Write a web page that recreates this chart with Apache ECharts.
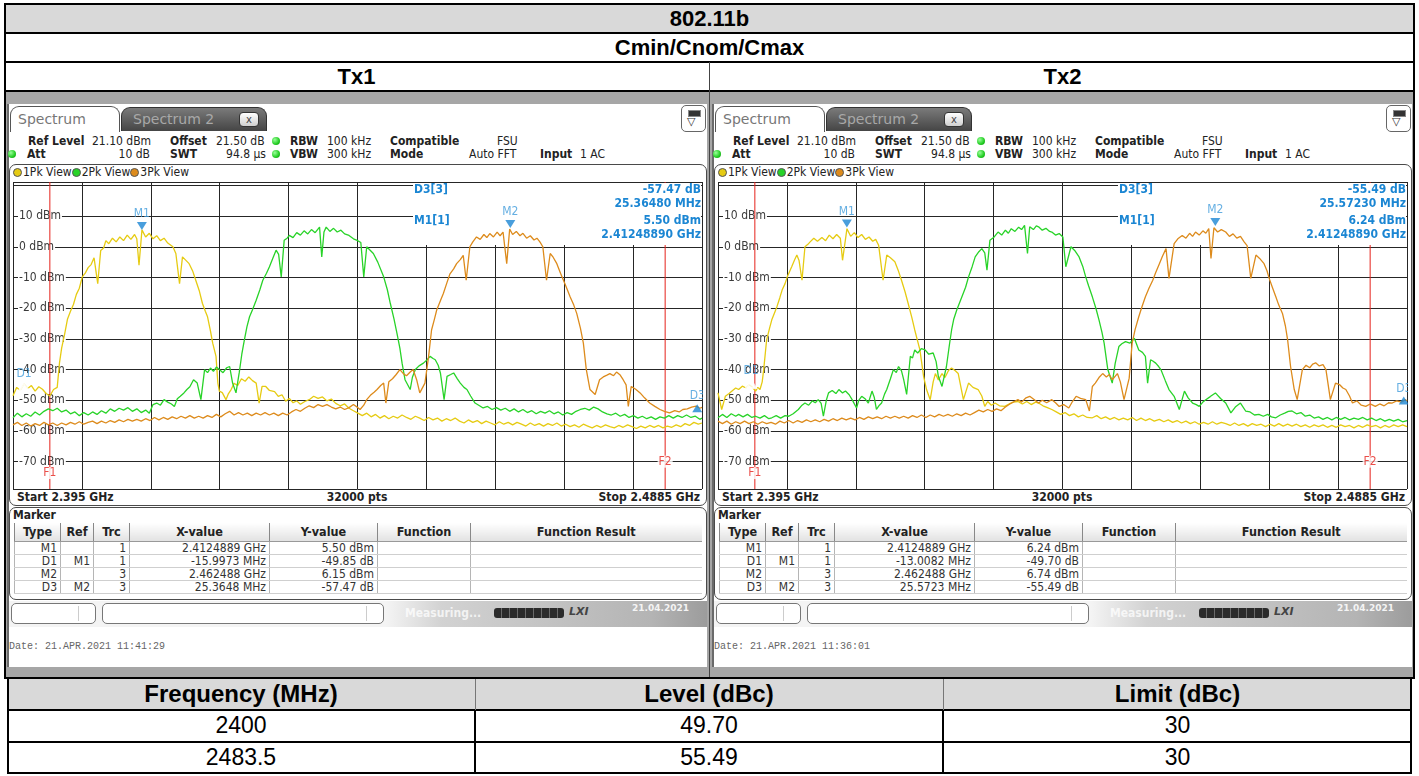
<!DOCTYPE html>
<html><head><meta charset="utf-8">
<script src="https://cdn.jsdelivr.net/npm/echarts@6/dist/echarts.min.js"></script>
<style>
html,body{margin:0;padding:0;background:#fff;}
#page{position:relative;width:1419px;height:776px;overflow:hidden;font-family:"Liberation Sans",Arial,sans-serif;}
.a{position:absolute;}
.hdr{position:absolute;text-align:center;font-weight:bold;font-size:22px;color:#000;line-height:29px;}
.rs{position:absolute;font-family:"DejaVu Sans Condensed","DejaVu Sans",sans-serif;font-size:12px;color:#222;white-space:nowrap;line-height:13px;}
.b{font-weight:bold;}
.dot{position:absolute;width:8px;height:8px;border-radius:50%;background:radial-gradient(circle at 35% 35%,#9f9,#2c2 60%,#181);}
.ldot{display:inline-block;width:9px;height:9px;border-radius:50%;border:1px solid #555;vertical-align:-1px;margin-right:1px;box-sizing:border-box;}
table.mk{position:absolute;border-collapse:collapse;table-layout:fixed;font-family:"DejaVu Sans Condensed","DejaVu Sans",sans-serif;font-size:12px;color:#333;}
table.mk td{padding:0 3px 0 0;text-align:right;border-left:1px solid #b5b5b5;border-bottom:1px solid #cfcfcf;height:12px;line-height:12px;white-space:nowrap;overflow:hidden;}
table.mk th{font-weight:bold;font-size:12.5px;color:#222;height:16px;line-height:16px;border-left:1px solid #888;border-bottom:1px solid #999;background:linear-gradient(#ffffff,#e2e2e2);}
.bt{position:absolute;text-align:center;font-size:23px;color:#000;}
</style></head>
<body><div id="page"></div>
<script>
// ---------------- data ----------------
const F_START = 2395, F_STOP = 2488.5, REF_LEVEL = 21.1, RANGE_DB = 100;
const traceColors = ['#e6cb12', '#28d328', '#dd8b1c'];
const fLineFreqs = [2400, 2483.5];
const fLineNames = ['F1', 'F2'];
const fLabelLevels = [-73.7, -70];

const tx1Yellow = [[2395,-48.5],[2395.5,-45.8],[2396,-46.8],[2396.5,-44.6],[2397,-46.2],[2397.5,-45.2],[2398,-47],[2398.5,-45.6],[2399,-46.4],[2399.5,-47.8],[2400,-48.6],[2400.5,-46.5],[2401,-45.8],[2401.3,-38],[2401.6,-33],[2402,-28.5],[2402.4,-23.5],[2402.8,-21],[2403.2,-18.8],[2403.6,-15.5],[2404,-13.5],[2404.4,-9.8],[2404.8,-8.6],[2405.2,-6.8],[2405.6,-5.8],[2406,-3.6],[2406.5,-12],[2406.9,-1.2],[2407.3,-0.4],[2407.6,2],[2408,1],[2408.5,2.8],[2409,1.6],[2409.5,3.2],[2410,2],[2410.5,3.8],[2411,2.4],[2411.5,4],[2411.8,2.6],[2412.1,-6],[2412.5,5.5],[2413,3.2],[2413.5,4.4],[2414,2.6],[2414.5,3.6],[2415,2],[2415.5,2.8],[2416,1.2],[2416.7,0],[2417.1,-2.2],[2417.6,-12],[2418,-3.3],[2418.5,-4.5],[2418.9,-5.5],[2419.4,-8],[2419.8,-10.9],[2420.3,-14.5],[2420.7,-18.4],[2421.1,-21],[2421.4,-22.8],[2421.8,-27.5],[2422.1,-31.4],[2422.55,-35.7],[2422.8,-44.4],[2423,-47],[2423.4,-47.5],[2423.9,-49.8],[2424.2,-48],[2424.6,-46.5],[2425,-44.5],[2425.5,-45.2],[2426,-43],[2426.5,-43.8],[2427,-42.4],[2427.5,-43.6],[2428,-44.4],[2428.4,-50.9],[2428.8,-45.5],[2429.3,-45.5],[2429.8,-46.8],[2430.5,-47.2],[2431,-48.7],[2431.5,-48.2],[2432,-50.3],[2432.5,-49.4],[2433,-50.8],[2433.5,-50.2],[2434,-51.3],[2434.6,-50.4],[2435.2,-49.8],[2435.8,-48.7],[2436.4,-49.4],[2437,-48.9],[2437.6,-50.2],[2438.2,-49.6],[2438.8,-51],[2439.4,-51.8],[2440,-51.2],[2440.6,-52.6],[2441.2,-53.4],[2441.8,-54.2],[2442.4,-55],[2443,-54.2],[2443.6,-55.4],[2444.2,-54.6],[2444.8,-55.8],[2445.4,-55],[2446,-56],[2446.6,-55.2],[2447.2,-55.8],[2447.8,-54.8],[2448.4,-55.6],[2449,-56.2],[2449.6,-55.2],[2450.2,-55.8],[2450.8,-56.6],[2451.4,-55.6],[2452,-56.4],[2452.6,-55.8],[2453.2,-56.8],[2453.8,-56],[2454.4,-56.6],[2455,-55.8],[2455.6,-56.8],[2456.2,-57.4],[2456.8,-56.4],[2457.4,-57.2],[2458,-56.6],[2458.6,-57.6],[2459.2,-56.8],[2459.8,-57.4],[2460.4,-58],[2461,-57],[2461.6,-57.8],[2462.2,-57.2],[2462.8,-58],[2463.4,-57.2],[2464,-57.8],[2464.6,-58.4],[2465.2,-57.4],[2465.8,-58.2],[2466.4,-57.6],[2467,-58.4],[2467.6,-57.6],[2468.2,-58.2],[2468.8,-57.4],[2469.4,-58.4],[2470,-57.8],[2470.6,-58.6],[2471.2,-58],[2471.8,-58.8],[2472.4,-57.8],[2473,-58.4],[2473.6,-59],[2474.2,-58.2],[2474.8,-58.8],[2475.4,-58],[2476,-58.6],[2476.6,-59],[2477.2,-58.2],[2477.8,-58.8],[2478.4,-58],[2479,-58.6],[2479.6,-59.2],[2480.2,-58.4],[2480.8,-59],[2481.4,-58.2],[2482,-58.8],[2482.6,-58.2],[2483.2,-59],[2483.8,-58.4],[2484.4,-58.8],[2485,-58],[2485.6,-58.6],[2486.2,-57.6],[2486.8,-58.2],[2487.4,-57.2],[2488,-57.8],[2488.5,-57.4]];

const tx1Green = [[2395,-55.7],[2395.6,-54.2],[2396.2,-55.4],[2396.8,-54.4],[2397.4,-55.2],[2398,-53.8],[2398.6,-54.8],[2399.2,-53.6],[2399.8,-52.8],[2400.4,-53.4],[2401,-52.6],[2401.6,-53.8],[2402.2,-53.2],[2402.8,-54.4],[2403.4,-53.8],[2404,-55],[2404.6,-54],[2405.2,-54.8],[2405.8,-53.8],[2406.4,-54.6],[2407,-53.4],[2407.6,-54.2],[2408.2,-52.8],[2408.8,-53.6],[2409.4,-52.6],[2410,-53.2],[2410.6,-52.4],[2411.2,-53.6],[2411.8,-52.8],[2412.4,-54],[2413,-53.2],[2413.5,-54.2],[2414,-51.4],[2414.5,-50.9],[2415,-51.6],[2415.5,-49.8],[2416,-50.6],[2416.5,-51.2],[2416.9,-52],[2417.3,-49.5],[2417.7,-48.7],[2418.2,-47.6],[2418.6,-46.5],[2419,-45.6],[2419.5,-43.3],[2420,-44.4],[2420.5,-49.8],[2421,-40],[2421.4,-41],[2421.8,-39.5],[2422.2,-40.6],[2422.6,-39.2],[2423,-40],[2423.5,-41],[2424,-39.4],[2424.4,-39],[2424.8,-44.4],[2425.26,-47.6],[2425.7,-41],[2426.05,-35],[2426.4,-30.3],[2426.75,-26],[2427.1,-22.8],[2427.5,-20.5],[2428,-17.4],[2428.5,-14],[2428.9,-10.9],[2429.4,-8.6],[2429.8,-6.5],[2430.3,-3.5],[2430.7,-1.1],[2431.05,-2.5],[2431.4,-9.8],[2431.8,2.1],[2432.2,2.8],[2432.5,3.7],[2433,3],[2433.5,4.6],[2434,3.8],[2434.5,5.2],[2435,4.2],[2435.5,5.6],[2436,4.6],[2436.6,6.4],[2436.9,-3.3],[2437.2,4.8],[2437.5,6.4],[2438,5],[2438.5,6],[2439,4.8],[2439.5,5.4],[2440,4.2],[2440.6,3.7],[2441.2,2.6],[2441.7,2.1],[2442.2,1.4],[2442.6,-9.8],[2443,0],[2443.5,-1.2],[2443.9,-2.2],[2444.5,-5],[2445.3,-9.8],[2445.8,-14],[2446.2,-18.4],[2446.7,-23.5],[2447.1,-28.1],[2447.5,-33],[2447.8,-37.9],[2448.2,-43.3],[2448.9,-46.5],[2449.2,-42.5],[2449.6,-40],[2450.1,-38.8],[2450.7,-37.9],[2451.2,-36.8],[2451.6,-35.7],[2452,-36.4],[2452.3,-36.8],[2452.7,-38.6],[2453,-41.1],[2453.5,-49.8],[2453.9,-42.2],[2454.4,-41.6],[2454.8,-41.1],[2455.3,-43],[2455.7,-44.4],[2456.2,-45.8],[2456.6,-46.5],[2457.1,-48.6],[2457.7,-50.9],[2458.2,-51.6],[2458.8,-52.5],[2459.4,-52],[2460,-53],[2460.6,-52.4],[2461.2,-53.2],[2461.8,-52.6],[2462.4,-53.6],[2463,-52.8],[2463.6,-53.8],[2464.2,-53],[2464.8,-54],[2465.4,-53.4],[2466,-54.4],[2466.6,-53.6],[2467.2,-54.2],[2467.8,-53.4],[2468.4,-54.4],[2469,-53.8],[2469.6,-54.8],[2470.2,-54],[2470.8,-54.6],[2471.4,-53.6],[2472,-53],[2472.6,-52.6],[2473.2,-53.2],[2473.8,-52.2],[2474.4,-52.8],[2475,-53.8],[2475.6,-54.4],[2476.2,-54.8],[2476.8,-54.2],[2477.4,-55.2],[2478,-54.6],[2478.6,-55.6],[2479.2,-55],[2479.8,-55.8],[2480.4,-55.2],[2481,-56],[2481.6,-55.4],[2482.2,-56.2],[2482.8,-55.4],[2483.4,-55.8],[2484,-55],[2484.6,-55.8],[2485.2,-55],[2485.8,-55.6],[2486.4,-54.8],[2487,-55.6],[2487.6,-55.2],[2488.2,-56.2],[2488.5,-55.8]];

const tx1Orange = [[2395,-58],[2395.6,-57.2],[2396.2,-58.2],[2396.8,-57.4],[2397.4,-58.4],[2398,-57.6],[2398.6,-58.2],[2399.2,-57.2],[2399.8,-58],[2400.4,-57.4],[2401,-58.2],[2401.6,-57.4],[2402.2,-58],[2402.8,-57.2],[2403.4,-57.8],[2404,-57],[2404.6,-57.8],[2405.2,-57.2],[2405.8,-56.8],[2406.4,-57.6],[2407,-56.8],[2407.6,-57.4],[2408.2,-56.6],[2408.8,-57.2],[2409.4,-56.4],[2410,-57],[2410.6,-56.2],[2411.2,-56.8],[2411.8,-56.2],[2412.4,-56.8],[2413,-56],[2413.6,-56.6],[2414.2,-55.6],[2414.8,-56.4],[2415.4,-55.6],[2416,-56.2],[2416.6,-55.4],[2417.2,-56],[2417.8,-55.2],[2418.4,-55.8],[2419,-55],[2419.6,-55.8],[2420.2,-55.2],[2420.8,-55.8],[2421.4,-55],[2422,-55.6],[2422.6,-54.6],[2423.2,-55.4],[2423.8,-54.4],[2424.4,-53.6],[2425,-54.8],[2425.6,-54],[2426.2,-54.8],[2426.8,-54.2],[2427.4,-55],[2428,-54.2],[2428.6,-54.8],[2429.2,-54],[2429.8,-54.8],[2430.4,-54.2],[2431,-55],[2431.6,-54.2],[2432.2,-54.8],[2432.8,-53.8],[2433.4,-53],[2434,-53.6],[2434.6,-52.6],[2435.2,-51.8],[2435.8,-52.4],[2436.4,-51.4],[2437,-52],[2437.6,-51.4],[2438.2,-52.2],[2438.8,-52.8],[2439.4,-52.2],[2440,-53],[2440.6,-52.4],[2441.2,-51.4],[2441.8,-52.4],[2442.1,-53],[2442.6,-51.6],[2443,-49.8],[2443.5,-48.4],[2444,-47.4],[2444.4,-46.5],[2444.9,-45.2],[2445.3,-44.4],[2445.6,-50.9],[2446,-44],[2446.5,-43],[2447,-41.6],[2447.5,-40],[2448,-41.4],[2448.4,-42],[2448.9,-40.8],[2449.3,-40],[2449.8,-43.5],[2450.2,-47.6],[2450.9,-44.4],[2451.4,-35.7],[2451.8,-27.1],[2452.2,-23.5],[2452.5,-20.6],[2453,-17.6],[2453.4,-15.2],[2453.9,-11.6],[2454.3,-8.8],[2454.8,-7.2],[2455.2,-5.5],[2455.7,-4.2],[2456.1,-2.8],[2456.5,-10.9],[2457,0],[2457.4,1.6],[2457.9,3.2],[2458.4,2.4],[2458.9,4],[2459.3,3],[2459.7,4.3],[2460.2,3.2],[2460.7,4.8],[2461.1,3.6],[2461.5,4.8],[2462,-5.5],[2462.4,5.8],[2462.8,4],[2463.3,5],[2463.8,3.6],[2464.2,4.4],[2464.7,2.8],[2465.2,3.6],[2465.7,2.2],[2466.1,2.8],[2466.5,1.6],[2466.9,0],[2467.4,-10.9],[2467.9,-2.2],[2468.3,-3.4],[2468.8,-5.5],[2469.3,-8.6],[2469.7,-10.9],[2470.2,-13.8],[2470.6,-16.3],[2471.1,-19],[2471.5,-21.7],[2472,-26.5],[2472.4,-31.4],[2472.8,-40],[2473.3,-46.5],[2474,-48.1],[2474.6,-43.3],[2475.1,-42.4],[2475.6,-41.8],[2476,-41.3],[2476.5,-42],[2476.9,-40.8],[2477.4,-41.8],[2477.8,-43.3],[2478.2,-45],[2478.5,-52],[2478.9,-45.5],[2479.5,-46.4],[2480.1,-47.6],[2480.7,-49.2],[2481.4,-50.9],[2482.1,-52],[2482.8,-53],[2483.4,-53.6],[2484.1,-54.1],[2484.8,-53.4],[2485.4,-53.8],[2485.9,-53],[2486.5,-52.8],[2487.1,-52.2],[2487.7,-51.9],[2488.2,-52.6],[2488.5,-52.3]];

const tx2Yellow = [[2395,-47.6],[2395.5,-53],[2396,-48.7],[2396.5,-47.8],[2396.9,-47],[2397.4,-46],[2397.8,-46.5],[2398.3,-45.4],[2398.8,-46],[2399.2,-44.9],[2399.6,-45.6],[2400.1,-47],[2400.4,-45.8],[2400.7,-46.5],[2401,-44],[2401.2,-40],[2401.6,-30.3],[2402,-26.5],[2402.3,-23.8],[2403,-19.5],[2403.4,-16.5],[2403.7,-14.1],[2404.1,-12],[2404.4,-9.8],[2405,-6.5],[2405.4,-4.2],[2405.7,-2.7],[2406,-4.5],[2406.4,-10.9],[2406.8,0],[2407.2,0.8],[2407.5,1.6],[2408,2.8],[2408.5,1.8],[2409.1,3],[2409.6,2],[2410.1,3.8],[2410.6,2.6],[2411.1,4],[2411.6,2.8],[2411.9,-4.4],[2412.5,5.9],[2413,3.4],[2413.5,4.6],[2414,3],[2414.5,4],[2415,2.4],[2415.5,3.2],[2416,1.8],[2416.4,2.4],[2416.8,0.5],[2417.4,-10.9],[2417.9,-2.7],[2418.4,-3.6],[2419,-4.9],[2419.5,-8],[2419.9,-10.9],[2420.4,-14.8],[2420.8,-18.4],[2421.3,-23],[2421.7,-27.1],[2422.1,-30.8],[2422.4,-33.6],[2422.9,-42.2],[2423.3,-46.5],[2423.8,-49.8],[2424.2,-44],[2424.5,-41.3],[2424.9,-43.4],[2425.4,-41.3],[2425.8,-42.6],[2426.3,-40.2],[2426.7,-39.5],[2427.2,-40.4],[2427.6,-41.3],[2428.3,-49.8],[2429,-44.4],[2429.6,-45.8],[2430.3,-46.5],[2430.8,-48.6],[2431.2,-52],[2431.6,-50.4],[2432.1,-51.6],[2432.6,-50.9],[2433.2,-51.8],[2433.9,-52],[2434.5,-51.2],[2435.1,-50.6],[2435.7,-50.4],[2436.3,-51.2],[2436.9,-50.4],[2437.5,-51.4],[2438.1,-50.6],[2438.5,-50.9],[2439.1,-51.8],[2439.7,-52.4],[2440.3,-53],[2440.9,-53.8],[2441.5,-54.6],[2442.1,-54],[2442.7,-55],[2443.3,-54.4],[2443.9,-55.4],[2444.5,-54.8],[2445.1,-55.6],[2445.8,-55.7],[2446.4,-55],[2447,-56],[2447.6,-55.4],[2448.2,-56.2],[2448.8,-55.6],[2449.4,-56.4],[2450,-55.8],[2450.6,-56.4],[2451.2,-55.6],[2451.8,-56.6],[2452.4,-55.8],[2453,-56.6],[2453.6,-56],[2454.2,-56.8],[2454.9,-56.2],[2455.5,-57],[2456.1,-56.4],[2456.7,-57.2],[2457.3,-56.6],[2457.9,-57.4],[2458.5,-56.8],[2459.1,-57.6],[2459.7,-57],[2460.3,-57.8],[2460.9,-57.2],[2461.5,-57.8],[2462.1,-57],[2462.7,-57.8],[2463.3,-57.2],[2463.9,-57.6],[2464.5,-58.2],[2465.1,-57.4],[2465.7,-58.2],[2466.3,-57.6],[2466.9,-58.4],[2467.5,-57.6],[2468.1,-58.2],[2468.7,-57.8],[2469.3,-58.6],[2469.9,-57.8],[2470.5,-58.4],[2471.1,-57.6],[2471.7,-58.4],[2472.3,-57.8],[2472.9,-58.4],[2473.5,-57.8],[2474.1,-58.6],[2474.7,-58],[2475.3,-58.8],[2475.9,-58],[2476.5,-58.6],[2477.1,-58],[2477.7,-58.8],[2478.3,-58.2],[2478.9,-58.8],[2479.5,-58],[2480.1,-58.6],[2480.7,-58.2],[2481.3,-59],[2481.9,-58.2],[2482.5,-58.8],[2483.1,-58],[2483.7,-58.6],[2484.3,-58.2],[2484.9,-59],[2485.5,-58.2],[2486.1,-58.8],[2486.7,-58],[2487.3,-58.6],[2487.9,-58],[2488.5,-58.6]];

const tx2Green = [[2395,-55.7],[2395.6,-54.6],[2396.2,-55.6],[2396.8,-54.4],[2397.4,-55.2],[2397.8,-54.6],[2398.4,-55.4],[2399,-54.6],[2399.6,-55.6],[2400.1,-55.2],[2400.7,-55.8],[2401.3,-55],[2401.9,-56],[2402.3,-55.7],[2402.9,-55],[2403.5,-55.8],[2404.1,-55],[2404.6,-55.2],[2405.2,-54.4],[2405.9,-53],[2406.4,-51.6],[2406.8,-50.9],[2407.3,-51.6],[2407.8,-50.2],[2408.2,-50.8],[2408.6,-49.8],[2409,-51],[2409.3,-55.2],[2409.7,-50],[2410,-47.6],[2410.5,-46.8],[2411,-47.8],[2411.4,-46.5],[2411.9,-47.6],[2412.3,-47],[2412.8,-48.2],[2413.2,-49.8],[2413.8,-52.5],[2414.1,-50],[2414.5,-48.7],[2415,-49.6],[2415.4,-50.9],[2415.9,-47],[2416.2,-49],[2416.5,-53],[2416.9,-51.6],[2417.2,-50.9],[2417.6,-48],[2417.9,-46.5],[2418.4,-43],[2418.8,-40],[2419.2,-41],[2419.5,-39],[2419.9,-40.4],[2420.2,-43.3],[2420.6,-48.1],[2421.1,-35.7],[2421.4,-36.2],[2421.7,-33.6],[2422.1,-34.6],[2422.6,-33.2],[2423.1,-33.6],[2423.6,-35],[2424.2,-34.6],[2424.6,-37.4],[2424.9,-42.2],[2425.4,-45.5],[2426,-39],[2426.4,-32],[2426.7,-27.1],[2427,-23.5],[2427.4,-20.6],[2428.1,-16.3],[2428.6,-13.2],[2429,-9.8],[2429.5,-6.4],[2429.9,-3.3],[2430.4,-1.6],[2430.8,-0.6],[2431.2,-2],[2431.5,-7.6],[2431.9,2.1],[2432.4,3],[2433,4.8],[2433.5,3.8],[2434,5.4],[2434.4,4.4],[2434.8,5.9],[2435.3,5],[2435.8,6.4],[2436.2,5.6],[2436.6,7],[2437,-2.2],[2437.3,6.5],[2437.8,5.6],[2438.2,6.8],[2438.5,6.5],[2439,5.4],[2439.5,6],[2440,5],[2440.3,4.8],[2440.8,3.8],[2441.3,4.3],[2441.8,3.2],[2442.2,-6.5],[2442.9,0],[2443.4,-1.2],[2444,-3.3],[2444.5,-6.4],[2444.9,-9.8],[2445.3,-12.8],[2445.8,-16.3],[2446.3,-20.2],[2446.7,-23.8],[2447.1,-27.8],[2447.4,-31.4],[2447.9,-40],[2448.5,-44.4],[2448.9,-38],[2449.4,-32.5],[2449.8,-31.6],[2450.3,-30.9],[2450.9,-31.4],[2451.5,-29.8],[2452.1,-33.6],[2452.6,-34.4],[2453,-35.7],[2453.3,-44.4],[2453.7,-36.8],[2454,-37.2],[2454.4,-37.9],[2454.8,-39],[2455.1,-40],[2455.7,-43.6],[2456.2,-46.5],[2456.9,-48.7],[2457.6,-53],[2458.3,-47],[2458.8,-49.2],[2459.4,-50.9],[2459.9,-51.4],[2460.3,-52],[2460.8,-50.6],[2461.2,-49.8],[2461.8,-48.8],[2462.5,-47.6],[2463.2,-49.4],[2463.9,-50.9],[2464.6,-54.1],[2465.2,-52.2],[2465.9,-50.9],[2466.6,-53.5],[2467.2,-53.8],[2467.8,-54.8],[2468.4,-54.6],[2469,-55.2],[2469.6,-54.6],[2470.1,-55.4],[2470.7,-55.7],[2471.3,-54.8],[2471.9,-54.2],[2472.4,-53.6],[2472.9,-53.5],[2473.5,-54.4],[2474.1,-54],[2474.7,-55.2],[2475.3,-54.8],[2475.9,-55.8],[2476.5,-55.4],[2477.1,-56.2],[2477.7,-55.6],[2478.3,-56.4],[2478.9,-55.6],[2479.5,-56.2],[2480.1,-55.6],[2480.7,-56.4],[2481.3,-55.8],[2481.9,-56.2],[2482.5,-55.6],[2483.1,-56.4],[2483.7,-55.8],[2484.3,-56.6],[2484.9,-56],[2485.5,-56.8],[2486.1,-56.2],[2486.7,-56.8],[2487.3,-56.2],[2487.9,-57],[2488.5,-56.6]];

const tx2Orange = [[2395,-56.8],[2395.6,-57.6],[2396.2,-56.8],[2396.8,-57.8],[2397.4,-57],[2398,-57.6],[2398.6,-56.8],[2399.2,-57.6],[2399.8,-57],[2400.4,-57.8],[2401,-57],[2401.6,-57.6],[2402.2,-57.2],[2402.8,-57.8],[2403.4,-56.8],[2404,-57.4],[2404.6,-56.6],[2405.2,-57.4],[2405.8,-56.6],[2406.4,-57.2],[2407,-56.4],[2407.6,-57],[2408.2,-56.4],[2408.8,-57],[2409.4,-56.2],[2410,-56.8],[2410.6,-56],[2411.2,-56.6],[2411.8,-55.8],[2412.4,-56.4],[2413,-55.8],[2413.6,-56.4],[2414.2,-55.6],[2414.8,-56.2],[2415.4,-55.4],[2416,-56],[2416.6,-55.4],[2417.2,-56],[2417.8,-55.2],[2418.4,-55.8],[2419,-55.2],[2419.6,-55.8],[2420.2,-55.2],[2420.8,-55.8],[2421.4,-55],[2422,-55.6],[2422.6,-54.8],[2423.2,-55.6],[2423.8,-54.8],[2424.4,-55.4],[2425,-54.6],[2425.6,-55.2],[2426.2,-54.6],[2426.8,-55.2],[2427.4,-54.4],[2428,-55],[2428.6,-54.2],[2429.2,-54.8],[2429.8,-54],[2430.4,-53.2],[2431,-53.8],[2431.6,-53],[2432.2,-53.6],[2432.8,-52.8],[2433.4,-53.4],[2434,-52.2],[2434.6,-51.2],[2435.2,-50.4],[2435.7,-49.8],[2436.2,-50.6],[2436.8,-49.2],[2437.3,-48.7],[2437.8,-49.6],[2438.5,-50.9],[2439,-50],[2439.6,-50.8],[2440.3,-49.8],[2440.8,-50.8],[2441.3,-52],[2441.9,-51.4],[2442.6,-52.5],[2443.1,-50.4],[2443.6,-48.7],[2444.2,-49.4],[2444.9,-49.8],[2445.4,-53.5],[2445.8,-45.5],[2446.2,-44.4],[2446.7,-42.6],[2447.2,-41.3],[2447.7,-42.4],[2448.1,-41.6],[2448.5,-43.3],[2449.2,-41.3],[2449.6,-44],[2450.1,-49.8],[2450.8,-42.8],[2451.2,-31.4],[2451.6,-27],[2452.1,-22.8],[2452.5,-19.8],[2453,-16.3],[2453.5,-13.4],[2454,-10.9],[2454.4,-8.4],[2454.9,-5.5],[2455.3,-3.2],[2455.8,-0.6],[2456.2,-10.3],[2456.9,1],[2457.4,2.6],[2458,3.7],[2458.5,2.8],[2459,4.4],[2459.4,3.4],[2459.8,4.8],[2460.3,3.8],[2460.8,5.2],[2461.2,4.4],[2461.6,5.9],[2461.9,-3.8],[2462.3,6.2],[2462.8,4.8],[2463.3,5.6],[2463.9,4.8],[2464.4,3.4],[2464.9,4.2],[2465.4,2.8],[2465.9,3.4],[2466.4,1.6],[2466.8,0.4],[2467.3,-10.3],[2468,-2.7],[2468.5,-3.8],[2469.1,-5.5],[2469.5,-7.8],[2469.8,-10.3],[2470.2,-13],[2470.7,-16.3],[2471.1,-19],[2471.6,-21.7],[2472,-25.8],[2472.3,-30.3],[2472.7,-39],[2473.2,-46.5],[2473.6,-49.8],[2474.3,-40],[2474.8,-38.6],[2475.3,-39.4],[2475.7,-38.2],[2476.1,-37.8],[2476.6,-38.8],[2477.1,-38.4],[2477.5,-40],[2478.1,-49.8],[2478.8,-44.4],[2479.4,-45],[2479.8,-46],[2480.2,-46.5],[2480.7,-48.6],[2481.1,-50.9],[2481.7,-50.2],[2482.3,-51.6],[2482.9,-52],[2483.5,-51.2],[2484.2,-52],[2484.8,-51.2],[2485.4,-51.8],[2486,-50.8],[2486.5,-50.9],[2487.1,-50.2],[2487.7,-50.6],[2488.3,-49.8],[2488.5,-50.2]];

// markers: M = absolute (MHz, dBm); D = delta to reference (MHz, dB)
const markerNames = ['M1', 'D1', 'M2', 'D3'];
const markerRefs  = ['', 'M1', '', 'M2'];
const markerTrcs  = [1, 1, 3, 3];
const tx1MarkerX = [2412.4889, -15.9973, 2462.488, 25.3648];
const tx1MarkerY = [5.50, -49.85, 6.15, -57.47];
const tx2MarkerX = [2412.4889, -13.0082, 2462.488, 25.5723];
const tx2MarkerY = [6.24, -49.70, 6.74, -55.49];

const panelTitles = ['Tx1', 'Tx2'];
const panelDates = ['Date: 21.APR.2021  11:41:29', 'Date: 21.APR.2021  11:36:01'];

// summary table
const summaryHeaders = ['Frequency (MHz)', 'Level (dBc)', 'Limit (dBc)'];
const summaryFreq = [2400, 2483.5];
const summaryLevel = [49.70, 55.49];
const summaryLimit = [30, 30];

// ---------------- layout ----------------
const page = document.getElementById('page');
function el(html) { page.insertAdjacentHTML('beforeend', html); }
const RSF = '"DejaVu Sans Condensed","DejaVu Sans",sans-serif';

// top table
el('<div class="a" style="left:4px;top:4px;width:1411px;height:29px;background:#d9d9d9"></div>');
el('<div class="a" style="left:6px;top:92px;width:1407px;height:586px;background:#a6a6a6"></div>');
el('<div class="a" style="left:4px;top:3px;width:1411px;height:676px;border:2px solid #000;box-sizing:border-box"></div>');
[33, 62, 91].forEach(y => el(`<div class="a" style="left:4px;top:${y - 1}px;width:1411px;height:2px;background:#000"></div>`));
el('<div class="a" style="left:709px;top:62px;width:1px;height:616px;background:#444"></div>');
el('<div class="hdr" style="left:4px;top:4px;width:1411px">802.11b</div>');
el('<div class="hdr" style="left:4px;top:33px;width:1411px">Cmin/Cnom/Cmax</div>');
el(`<div class="hdr" style="left:4px;top:62px;width:705px">${panelTitles[0]}</div>`);
el(`<div class="hdr" style="left:710px;top:62px;width:705px">${panelTitles[1]}</div>`);

// bottom table
el('<div class="a" style="left:7px;top:678px;width:1405px;height:32px;background:#d9d9d9"></div>');
el('<div class="a" style="left:7px;top:677px;width:1405px;height:97px;border:2px solid #000;box-sizing:border-box"></div>');
[710, 742].forEach(y => el(`<div class="a" style="left:7px;top:${y - 1}px;width:1405px;height:2px;background:#000"></div>`));
[475, 943].forEach(x => {
  el(`<div class="a" style="left:${x}px;top:679px;width:1px;height:31px;background:#777"></div>`);
  el(`<div class="a" style="left:${x - 1}px;top:710px;width:2px;height:63px;background:#000"></div>`);
});
const colL = [7, 475, 943], colW = [468, 468, 469];
summaryHeaders.forEach((h, i) => el(`<div class="bt" style="left:${colL[i]}px;top:678px;width:${colW[i]}px;line-height:32px;font-weight:bold;font-size:24px">${h}</div>`));
summaryFreq.forEach((f, r) => {
  const vals = [String(f), summaryLevel[r].toFixed(2), String(summaryLimit[r])];
  vals.forEach((v, i) => el(`<div class="bt" style="left:${colL[i]}px;top:${710 + r * 32}px;width:${colW[i]}px;line-height:31px">${v}</div>`));
});

// spectrum screenshot panels
function buildPanel(dx, idx, traces, mX, mY) {
  const L = x => x + dx;
  el(`<div class="a" style="left:${L(7)}px;top:104px;width:700px;height:563px;background:#fff;border-left:2px solid #6a6a6a;box-sizing:border-box"></div>`);
  // tabs
  el(`<div class="a" style="left:${L(10)}px;top:106px;width:110px;height:26px;background:#fff;border:1px solid #555;border-bottom:none;border-radius:9px 9px 0 0;box-sizing:border-box"></div>`);
  el(`<div class="a" style="left:${L(18)}px;top:111px;font-family:'DejaVu Sans',sans-serif;font-size:14px;color:#777">Spectrum</div>`);
  el(`<div class="a" style="left:${L(121)}px;top:107px;width:146px;height:24px;background:linear-gradient(#7a7a7a,#454545);border:1px solid #333;border-bottom:none;border-radius:9px 9px 0 0;box-sizing:border-box"></div>`);
  el(`<div class="a" style="left:${L(133)}px;top:111px;font-family:'DejaVu Sans',sans-serif;font-size:14px;color:#a8a8a8">Spectrum 2</div>`);
  el(`<div class="a" style="left:${L(239)}px;top:112px;width:20px;height:15px;border:1px solid #333;border-radius:4px;background:linear-gradient(#fff,#cfcfcf);box-sizing:border-box;font:10px 'DejaVu Sans',sans-serif;color:#444;text-align:center;line-height:13px">x</div>`);
  el(`<div class="a" style="left:${L(681)}px;top:105px;width:25px;height:27px;border:1px solid #666;border-radius:5px;background:#fff;box-sizing:border-box"><div class="a" style="left:6px;top:4px;width:11px;height:5px;background:#333;border:1px solid #888"></div><div class="a" style="left:5px;top:9px;font:11px 'DejaVu Sans',sans-serif;color:#333">▽</div></div>`);
  // settings rows
  const r1 = 135, r2 = 148;
  const items = [
    [28, r1, 'Ref Level', 1], [92, r1, '21.10 dBm', 0], [170, r1, 'Offset', 1], [216, r1, '21.50 dB', 0],
    [290, r1, 'RBW', 1], [327, r1, '100 kHz', 0], [390, r1, 'Compatible', 1], [497, r1, 'FSU', 0],
    [27, r2, 'Att', 1], [170, r2, 'SWT', 1], [290, r2, 'VBW', 1], [327, r2, '300 kHz', 0],
    [390, r2, 'Mode', 1], [469, r2, 'Auto FFT', 0], [540, r2, 'Input', 1], [580, r2, '1 AC', 0]
  ];
  items.forEach(t => el(`<div class="rs${t[3] ? ' b' : ''}" style="left:${L(t[0])}px;top:${t[1]}px">${t[2]}</div>`));
  el(`<div class="rs" style="left:${L(100)}px;top:${r2}px;width:50px;text-align:right">10 dB</div>`);
  el(`<div class="rs" style="left:${L(206)}px;top:${r2}px;width:60px;text-align:right">94.8 µs</div>`);
  [[276, 137], [12, 150], [276, 150]].forEach(d => el(`<div class="dot" style="left:${L(d[0] - 4)}px;top:${d[1]}px"></div>`));
  // plot frame and legend
  el(`<div class="a" style="left:${L(9)}px;top:164px;width:698px;height:342px;border:1.5px solid #4a4a4a;border-radius:7px;box-sizing:border-box"></div>`);
  el(`<div class="rs" style="left:${L(13)}px;top:166px;font-size:12px;line-height:13px"><span class="ldot" style="background:${traceColors[0]}"></span>1Pk View<span class="ldot" style="background:${traceColors[1]}"></span>2Pk View<span class="ldot" style="background:${traceColors[2]}"></span>3Pk View</div>`);
  el(`<div class="rs b" style="left:${L(17)}px;top:491px">Start ${(F_START / 1000).toFixed(3)} GHz</div>`);
  el(`<div class="rs b" style="left:${L(307)}px;top:491px;width:100px;text-align:center">32000 pts</div>`);
  el(`<div class="rs b" style="left:${L(560)}px;top:491px;width:140px;text-align:right">Stop ${(F_STOP / 1000).toFixed(4)} GHz</div>`);
  // marker table
  el(`<div class="a" style="left:${L(9)}px;top:507px;width:698px;height:93px;border:1.5px solid #4a4a4a;border-radius:7px;box-sizing:border-box"></div>`);
  el(`<div class="rs b" style="left:${L(13)}px;top:509px">Marker</div>`);
  const widths = [46, 33, 36, 140, 108, 93, 231];
  let html = `<table class="mk" style="left:${L(14)}px;top:523px;width:687px"><colgroup>${widths.map(w => `<col style="width:${w}px">`).join('')}</colgroup>`;
  html += '<tr>' + ['Type', 'Ref', 'Trc', 'X-value', 'Y-value', 'Function', 'Function Result'].map(h => `<th>${h}</th>`).join('') + '</tr>';
  markerNames.forEach((n, i) => {
    const isD = n[0] === 'D';
    const xs = isD ? mX[i].toFixed(4) + ' MHz' : String(+(mX[i] / 1000).toFixed(7)) + ' GHz';
    const ys = mY[i].toFixed(2) + (isD ? ' dB' : ' dBm');
    html += `<tr><td>${n}</td><td>${markerRefs[i]}</td><td>${markerTrcs[i]}</td><td>${xs}</td><td>${ys}</td><td></td><td></td></tr>`;
  });
  html += '</table>';
  el(html);
  // status bar
  el(`<div class="a" style="left:${L(9)}px;top:601px;width:698px;height:26px;background:linear-gradient(to right,#f4f4f4 0%,#f4f4f4 54%,#d2d2d2 62%,#b4b4b4 92%,#9c9c9c 100%)"></div>`);
  el(`<div class="a" style="left:${L(11)}px;top:603px;width:85px;height:21px;border:1px solid #777;border-radius:5px;background:#fff;box-sizing:border-box"><div class="a" style="left:66px;top:2px;width:1px;height:15px;background:#ccc"></div></div>`);
  el(`<div class="a" style="left:${L(102)}px;top:603px;width:282px;height:21px;border:1px solid #777;border-radius:5px;background:#fff;box-sizing:border-box"><div class="a" style="left:263px;top:2px;width:1px;height:15px;background:#ccc"></div></div>`);
  el(`<div class="rs b" style="left:${L(405)}px;top:607px;color:rgba(255,255,255,0.75)">Measuring...</div>`);
  el(`<div class="a" style="left:${L(494)}px;top:608px;width:70px;height:10px;border-radius:3px;background:repeating-linear-gradient(to right,#2b2b2b 0,#2b2b2b 7px,#6a6a6a 7px,#6a6a6a 8px)"></div>`);
  el(`<div class="a" style="left:${L(569)}px;top:605px;font:italic bold 11px 'DejaVu Sans',sans-serif;color:#444">LXI</div>`);
  el(`<div class="a" style="left:${L(632)}px;top:603px;font:bold 9px 'DejaVu Sans',sans-serif;color:#f4f4f4">21.04.2021</div>`);
  el(`<div class="a" style="left:${L(9)}px;top:641px;font:10px 'Liberation Mono',monospace;color:#666">${panelDates[idx]}</div>`);

  // chart
  const id = 'chart' + idx;
  el(`<div id="${id}" class="a" style="left:${L(12)}px;top:181px;width:691px;height:309px"></div>`);
  const chart = echarts.init(document.getElementById(id));
  chart.setOption(buildOption(traces, mX, mY));
}

function buildOption(traces, mX, mY) {
  const span = +(F_STOP - F_START).toFixed(4);
  const off = f => +(f - F_START).toFixed(4);
  const yMin = +(REF_LEVEL - RANGE_DB).toFixed(2), yMax = REF_LEVEL;
  const m1 = [mX[0], mY[0]];
  const d1 = [mX[0] + mX[1], mY[0] + mY[1]];
  const m2 = [mX[2], mY[2]];
  const d3 = [mX[2] + mX[3], mY[2] + mY[3]];
  const blue = '#1b86d3', lblue = '#3f9bdb';
  const mk = (p, name, isD) => ({
    name, value: [off(p[0]), p[1]],
    symbol: isD ? (name === 'D1' ? 'emptyTriangle' : 'triangle') : 'triangle',
    symbolRotate: isD ? 0 : 180,
    symbolSize: [10, 8],
    symbolOffset: [0, isD ? 4 : -4],
    itemStyle: { color: isD && name === 'D1' ? '#ffffff' : blue, borderColor: blue, borderWidth: isD && name === 'D1' ? 1.2 : 0 }
  });
  const series = [];
  fLineFreqs.forEach(f => series.push({
    type: 'line', z: 1, silent: true, symbol: 'none', animation: false,
    lineStyle: { color: '#e5221b', width: 1 },
    data: [[off(f), yMin], [off(f), yMax]]
  }));
  traces.forEach((tr, i) => series.push({
    type: 'line', z: 3, silent: true, symbol: 'none', showSymbol: false, animation: false, sampling: null,
    lineStyle: { color: traceColors[i], width: 1.3 },
    data: tr.map(p => [off(p[0]), p[1]])
  }));
  series.push({
    type: 'scatter', z: 5, silent: true, animation: false, clip: false,
    label: { show: true, position: 'top', distance: 2, formatter: p => p.name, color: lblue,
             fontFamily: RSF, fontSize: 12 },
    data: [mk(m1, 'M1', false), mk(d1, 'D1', true), mk(m2, 'M2', false), mk(d3, 'D3', true)]
  });
  series.push({
    type: 'scatter', z: 5, silent: true, animation: false, symbolSize: 0,
    label: { show: true, position: 'inside', formatter: p => p.data[2], color: '#e5221b',
             fontFamily: RSF, fontSize: 12, backgroundColor: '#fff', padding: [0, 1] },
    data: fLineFreqs.map((f, i) => [off(f), fLabelLevels[i], fLineNames[i]])
  });
  const txt = (x, y, s, align) => ({
    type: 'text', z: 6, silent: true, x, y,
    style: { text: s, fill: blue, font: 'bold 12px ' + RSF, textAlign: align, textVerticalAlign: 'middle' }
  });
  const refIdx = 0, dIdx = 3;
  const graphic = [
    { type: 'rect', z: 2, silent: true, shape: { x: 401, y: 2, width: 288, height: 62 }, style: { fill: '#fff' } },
    txt(402, 9, markerNames[dIdx] + '[' + markerTrcs[dIdx] + ']', 'left'),
    txt(689, 9, mY[dIdx].toFixed(2) + ' dB', 'right'),
    txt(689, 23, mX[dIdx].toFixed(5) + ' MHz', 'right'),
    txt(402, 40, markerNames[refIdx] + '[' + markerTrcs[refIdx] + ']', 'left'),
    txt(689, 40, mY[refIdx].toFixed(2) + ' dBm', 'right'),
    txt(689, 54, (mX[refIdx] / 1000).toFixed(8) + ' GHz', 'right')
  ];
  return {
    animation: false,
    grid: { left: 1, right: 1, top: 1, bottom: 1, containLabel: false },
    xAxis: {
      type: 'value', min: 0, max: span, interval: +(span / 10).toFixed(4),
      axisLabel: { show: false }, axisTick: { show: false }, axisLine: { show: false },
      splitLine: { show: true, lineStyle: { color: '#262626', width: 1 } }
    },
    yAxis: {
      type: 'value', min: yMin, max: yMax, splitNumber: 10,
      axisTick: { show: false }, axisLine: { show: false },
      splitLine: { show: true, lineStyle: { color: '#262626', width: 1 } },
      axisLabel: {
        inside: true, margin: 5, showMinLabel: false, showMaxLabel: false,
        formatter: v => (Math.abs(v - 20) < 1e-6 ? '' : v + ' dBm'),
        color: '#3a3a3a', fontFamily: RSF, fontSize: 12, backgroundColor: '#fff', padding: [0, 1]
      }
    },
    graphic,
    series
  };
}

buildPanel(0, 0, [tx1Yellow, tx1Green, tx1Orange], tx1MarkerX, tx1MarkerY);
buildPanel(705, 1, [tx2Yellow, tx2Green, tx2Orange], tx2MarkerX, tx2MarkerY);
</script></body></html>
